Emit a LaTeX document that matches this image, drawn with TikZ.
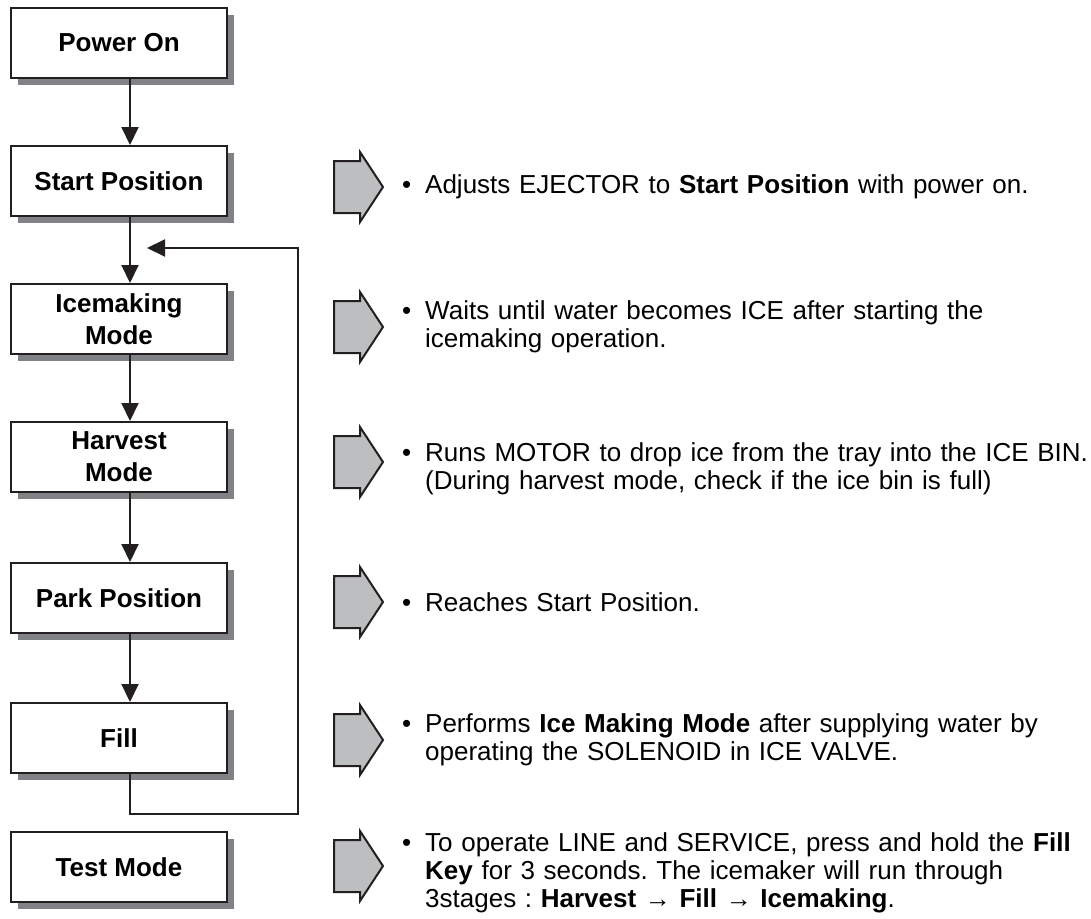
\documentclass[tikz,border=0pt]{standalone}
\usepackage{fontspec}
\setmainfont{Liberation Sans}
\usetikzlibrary{arrows.meta,shadows}
\definecolor{ink}{HTML}{231F20}
\definecolor{shade}{HTML}{808285}
\definecolor{arrowfill}{HTML}{BCBEC0}
\frenchspacing
\begin{document}
\begin{tikzpicture}[x=1pt,y=-1pt,
  stepbox/.style={draw=ink, line width=2pt, fill=white, minimum width=216pt, minimum height=70pt,
    align=center, font=\fontsize{26}{32}\selectfont\bfseries, inner sep=0pt,
    general shadow={fill=shade, shadow xshift=7pt, shadow yshift=-7pt}},
  flow/.style={draw=ink, line width=2pt, line join=miter, -{Triangle[length=18pt,width=17pt]}},
  desc/.style={anchor=west, text width=689pt, align=left, font=\fontsize{26}{27.8}\selectfont, inner sep=0pt},
  blockarrow/.style={draw=ink, line width=2pt, fill=arrowfill, line join=miter}]
\useasboundingbox (0,0) rectangle (1091,918);

\node[stepbox] (pwr)   at (119,43)  {Power On};
\node[stepbox] (start) at (119,181) {Start Position};
\node[stepbox] (ice)   at (119,319) {Icemaking\\Mode};
\node[stepbox] (harv)  at (119,457) {Harvest\\Mode};
\node[stepbox] (park)  at (119,598) {Park Position};
\node[stepbox] (fill)  at (119,738) {Fill};
\node[stepbox] (test)  at (119,867) {Test Mode};

\draw[flow] ([xshift=11pt]pwr.south) -- ([xshift=11pt]start.north);
\draw[flow] ([xshift=11pt]start.south) -- ([xshift=11pt]ice.north);
\draw[flow] ([xshift=11pt]ice.south) -- ([xshift=11pt]harv.north);
\draw[flow] ([xshift=11pt]harv.south) -- ([xshift=11pt]park.north);
\draw[flow] ([xshift=11pt]park.south) -- ([xshift=11pt]fill.north);
\coordinate (loopbr) at (298,814);
\coordinate (looptip) at (147,248);
\draw[flow] ([xshift=11pt]fill.south) |- (loopbr) |- (looptip);

\foreach \c in {187,327,462,602,740,866}
  \draw[blockarrow] (334,\c-26) -- (360,\c-26) -- (360,\c-35) -- (383,\c) -- (360,\c+35) -- (360,\c+26) -- (334,\c+26) -- cycle;

\def\bul{\makebox[23pt][l]{\textbullet}}
\node[desc] (d1) at (402,187) {\bul Adjusts EJECTOR to \textbf{Start Position} with power on.};
\node[desc] (d2) at (402,327) {\bul Waits until water becomes ICE after starting the\\\hspace*{23pt}icemaking operation.};
\node[desc] (d3) at (402,469) {\bul Runs MOTOR to drop ice from the tray into the ICE BIN.\\\hspace*{23pt}(During harvest mode, check if the ice bin is full)};
\node[desc] (d4) at (402,602) {\bul Reaches Start Position.};
\node[desc] (d5) at (402,740) {\bul Performs \textbf{Ice Making Mode} after supplying water by\\\hspace*{23pt}operating the SOLENOID in ICE VALVE.};
\node[desc] (d6) at (402,873) {\bul To operate LINE and SERVICE, press and hold the \textbf{Fill}\\\hspace*{23pt}\textbf{Key} for 3 seconds. The icemaker will run through\\\hspace*{23pt}3stages : \textbf{Harvest} → \textbf{Fill} → \textbf{Icemaking}.};
\end{tikzpicture}
\end{document}
